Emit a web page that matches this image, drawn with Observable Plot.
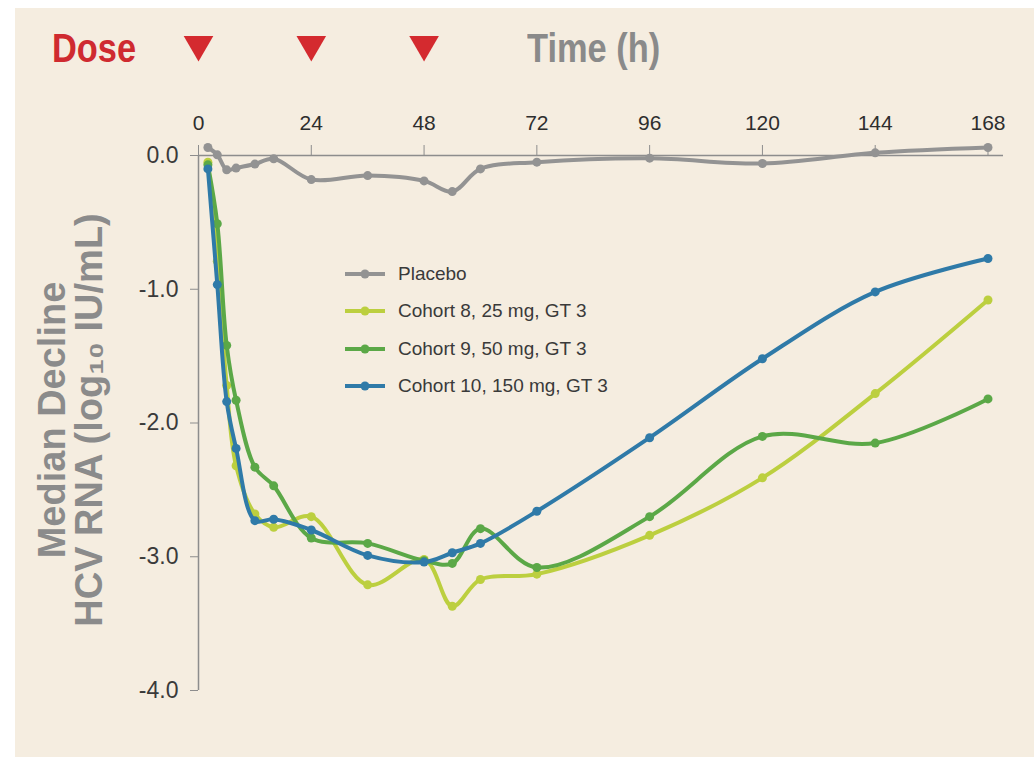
<!DOCTYPE html>
<html>
<head>
<meta charset="utf-8">
<script src="https://cdn.jsdelivr.net/npm/d3@7"></script>
<script src="https://cdn.jsdelivr.net/npm/@observablehq/plot@0.6"></script>
<style>
  html, body { margin: 0; padding: 0; background: #ffffff; }
  #wrap { position: relative; width: 1034px; height: 757px; overflow: hidden; font-family: "Liberation Sans", Arial, sans-serif; }
  #chart { position: absolute; left: 15px; top: 8px; }
  .hdr { position: absolute; font-weight: bold; font-size: 40px; line-height: 40px; transform: scaleX(0.86); transform-origin: left center; white-space: nowrap; }
  .leg { position: absolute; left: 345px; font-size: 19px; color: #3a3a3a; white-space: nowrap; }
  .leg svg { position: absolute; left: 0; top: -6px; }
  .leg span { position: absolute; left: 53px; top: -11px; line-height: 22px; }
</style>
</head>
<body>
<div id="wrap">
  <div id="chart"></div>
  <div class="hdr" style="left:52px; top:28px; color:#cf2a30;">Dose</div>
  <div class="hdr" style="left:527px; top:28px; color:#8a8a8a;">Time (h)</div>
  <div id="legend"></div>
</div>
<script>
// ---- data ----
const times = [2, 4, 6, 8, 12, 16, 24, 36, 48, 54, 60, 72, 96, 120, 144, 168];
const placebo  = [0.06, 0.005, -0.107, -0.094, -0.064, -0.024, -0.18, -0.15, -0.19, -0.27, -0.10, -0.05, -0.02, -0.06, 0.02, 0.06];
const cohort8  = [-0.05, -0.79, -1.72, -2.32, -2.68, -2.78, -2.70, -3.21, -3.02, -3.37, -3.17, -3.13, -2.84, -2.41, -1.78, -1.08];
const cohort9  = [-0.07, -0.51, -1.42, -1.83, -2.33, -2.47, -2.86, -2.90, -3.03, -3.05, -2.79, -3.08, -2.70, -2.10, -2.15, -1.82];
const cohort10 = [-0.10, -0.965, -1.84, -2.19, -2.73, -2.72, -2.80, -2.99, -3.04, -2.97, -2.90, -2.66, -2.11, -1.52, -1.02, -0.77];
const seriesNames  = ["Placebo", "Cohort 8, 25 mg, GT 3", "Cohort 9, 50 mg, GT 3", "Cohort 10, 150 mg, GT 3"];
const seriesValues = [placebo, cohort8, cohort9, cohort10];
const seriesColors = ["#939393", "#bccf3f", "#5ba847", "#2f7aa8"];
const doseTimes = [0, 24, 48];
const xTicks = [0, 24, 48, 72, 96, 120, 144, 168];
const yTicks = [0, -1, -2, -3, -4];
const yTitle = "Median Decline\nHCV RNA (log\u2081\u2080 IU/mL)";

// ---- build table ----
const rows = [];
seriesNames.forEach((s, i) => times.forEach((t, j) => rows.push({series: s, t, v: seriesValues[i][j]})));

const axisGray = "#8d8d8d";
const marks = [
  Plot.ruleY([0], {stroke: axisGray, strokeWidth: 1.5}),
  Plot.ruleX([0], {stroke: axisGray, strokeWidth: 1.5}),
  Plot.axisX({anchor: "top", ticks: xTicks, tickSize: 11, tickPadding: 15, fontSize: 21,
              stroke: axisGray, fill: "#2e2e2e", label: null, tickFormat: d => String(d)}),
  Plot.axisY({anchor: "left", ticks: yTicks, tickSize: 8, tickPadding: 12, fontSize: 23,
              stroke: axisGray, fill: "#3a3a3a", label: null, tickFormat: d => d.toFixed(1)}),
  Plot.text([yTitle], {text: d => d, frameAnchor: "left", dx: -127, dy: -3, rotate: -90,
              textAnchor: "middle", lineAnchor: "middle", lineHeight: 0.98,
              fontSize: 38, fontWeight: "bold", fill: "#8b8b8b"}),
  Plot.dot(doseTimes, {x: d => d, frameAnchor: "top", dy: -111, symbol: "triangle",
              r: 11, rotate: 180, fill: "#d42a2f"})
];
seriesNames.forEach(s => {
  const sub = rows.filter(r => r.series === s);
  marks.push(Plot.line(sub, {x: "t", y: "v", stroke: "series", strokeWidth: 4, curve: "catmull-rom"}));
  marks.push(Plot.dot(sub, {x: "t", y: "v", fill: "series", r: 4.5}));
});

const chart = Plot.plot({
  width: 1019, height: 749,
  marginLeft: 183, marginRight: 31, marginTop: 147, marginBottom: 67,
  style: {background: "#f5ede0", fontFamily: "'Liberation Sans', Arial, sans-serif", overflow: "visible"},
  x: {domain: [0, 171.3], label: null},
  y: {domain: [-4, 0], label: null},
  color: {domain: seriesNames, range: seriesColors},
  marks
});
document.getElementById("chart").appendChild(chart);

// ---- legend ----
const leg = document.getElementById("legend");
seriesNames.forEach((s, i) => {
  const row = document.createElement("div");
  row.className = "leg";
  row.style.top = (274 + i * 37.3) + "px";
  row.innerHTML = `<svg width="42" height="12"><line x1="0" y1="6" x2="40" y2="6" stroke="${seriesColors[i]}" stroke-width="4"/><circle cx="20" cy="6" r="4.5" fill="${seriesColors[i]}"/></svg><span>${s}</span>`;
  leg.appendChild(row);
});
</script>
</body>
</html>
